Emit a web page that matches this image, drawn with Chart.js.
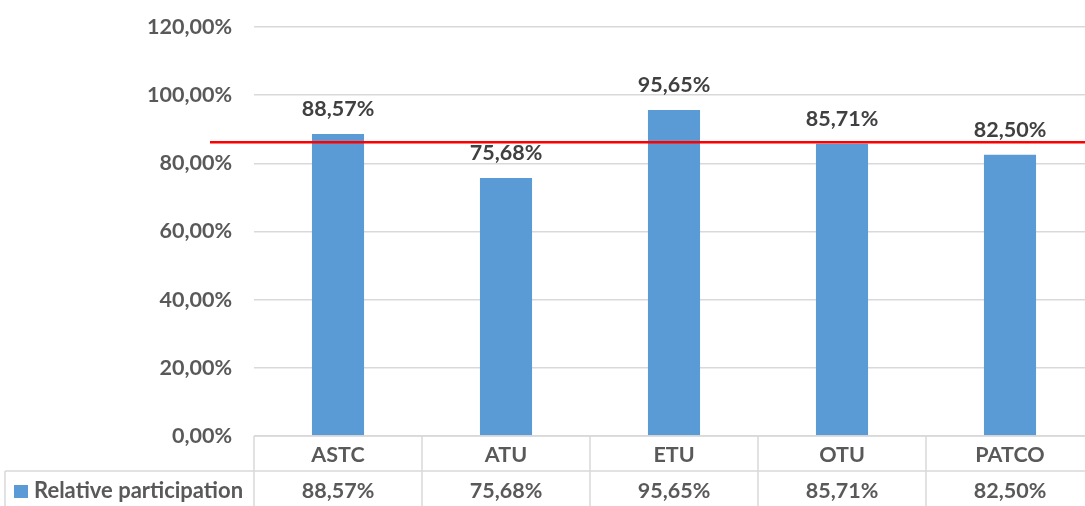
<!DOCTYPE html>
<html>
<head>
<meta charset="utf-8">
<script src="https://cdn.jsdelivr.net/npm/chart.js@4.4.1/dist/chart.umd.min.js"></script>
<style>
  html, body { margin: 0; padding: 0; background: #fff; overflow: hidden; }
  #wrap { width: 1100px; height: 506px; }
</style>
</head>
<body>
<div id="wrap"><canvas id="chart"></canvas></div>
<script>
const categories = ['ASTC', 'ATU', 'ETU', 'OTU', 'PATCO'];
const participation = [88.57, 75.68, 95.65, 85.71, 82.50];
const seriesName = 'Relative participation';
const redLineValue = 86.2;
const yTicks = [0, 20, 40, 60, 80, 100, 120];

const FONT = 'Lato, "Open Sans", sans-serif';
const pct = v => v.toFixed(2).replace('.', ',') + '%';

// draws axis labels, value labels, red line and the data table under the plot
const extras = {
    id: 'extras',
    afterDatasetsDraw(chart) {
        const { ctx, chartArea, scales } = chart;
        const x = scales.x, y = scales.y;
        const meta = chart.getDatasetMeta(0);
        ctx.save();

        // y axis labels
        ctx.font = 'bold 21.5px ' + FONT;
        ctx.fillStyle = '#595959';
        ctx.textAlign = 'right';
        ctx.textBaseline = 'middle';
        yTicks.forEach(v => ctx.fillText(pct(v), chartArea.left - 22, y.getPixelForValue(v)));

        // labels above bars
        ctx.fillStyle = '#404040';
        ctx.textAlign = 'center';
        meta.data.forEach((bar, i) => {
            ctx.fillText(pct(participation[i]), bar.x, bar.y - 25);
        });

        // red reference line
        const ry = y.getPixelForValue(redLineValue);
        ctx.strokeStyle = '#ff0000';
        ctx.lineWidth = 2.5;
        ctx.beginPath();
        ctx.moveTo(210, ry);
        ctx.lineTo(chart.width, ry);
        ctx.stroke();

        // data table
        const top = chartArea.bottom;
        const mid = top + 35;
        const bottom = chart.height;
        const half = (x.getPixelForValue(1) - x.getPixelForValue(0)) / 2;
        ctx.strokeStyle = '#d9d9d9';
        ctx.lineWidth = 1.5;
        ctx.beginPath();
        ctx.moveTo(chartArea.left, top); ctx.lineTo(chart.width, top);
        ctx.moveTo(5, mid); ctx.lineTo(chart.width, mid);
        ctx.moveTo(5, mid); ctx.lineTo(5, bottom);
        for (let i = 0; i <= categories.length; i++) {
            const lx = x.getPixelForValue(0) - half + i * half * 2;
            ctx.moveTo(lx, top); ctx.lineTo(lx, bottom);
        }
        ctx.stroke();

        ctx.fillStyle = '#595959';
        categories.forEach((c, i) => {
            const cx = x.getPixelForValue(i);
            ctx.fillText(c, cx, top + 19);
            ctx.fillText(pct(participation[i]), cx, mid + 20);
        });

        // legend key
        ctx.fillStyle = '#5b9bd5';
        ctx.fillRect(14, mid + 14, 14, 13);
        ctx.fillStyle = '#595959';
        ctx.font = 'bold 22px ' + FONT;
        ctx.textAlign = 'left';
        ctx.fillText(seriesName, 34, mid + 20);
        ctx.restore();
    }
};

new Chart(document.getElementById('chart'), {
    type: 'bar',
    data: {
        labels: categories,
        datasets: [{
            label: seriesName,
            data: participation,
            backgroundColor: '#5b9bd5',
            barPercentage: 0.62,
            categoryPercentage: 0.5
        }]
    },
    options: {
        responsive: true,
        maintainAspectRatio: false,
        animation: false,
        layout: { padding: { top: 27, right: 6, bottom: 62, left: 0 } },
        plugins: { legend: { display: false }, tooltip: { enabled: false } },
        scales: {
            x: {
                ticks: { display: false },
                grid: { display: false },
                border: { display: false }
            },
            y: {
                min: 0,
                max: 120,
                afterFit: s => { s.width = 254; },
                afterBuildTicks: s => { s.ticks = yTicks.map(v => ({ value: v })); },
                ticks: { display: false },
                grid: { color: '#d9d9d9', lineWidth: 1.5, drawTicks: false },
                border: { display: false }
            }
        }
    },
    plugins: [extras]
});
</script>
</body>
</html>
